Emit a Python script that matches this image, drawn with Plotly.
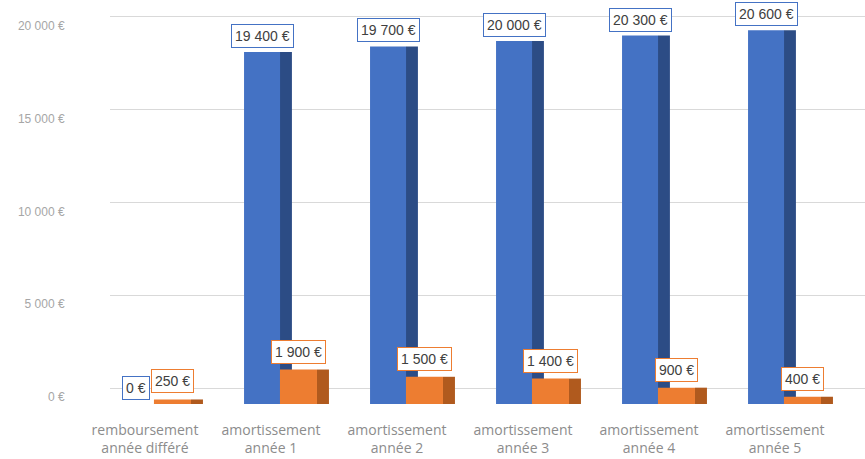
import plotly.graph_objects as go

categories = ["remboursement<br>année différé", "amortissement<br>année 1", "amortissement<br>année 2",
              "amortissement<br>année 3", "amortissement<br>année 4", "amortissement<br>année 5"]
capital = [0, 19400, 19700, 20000, 20300, 20600]
interets = [250, 1900, 1500, 1400, 900, 400]
y_ticks = [0, 5000, 10000, 15000, 20000]

BLUE, BLUE_SIDE = "#4472C4", "#2C4C85"
ORANGE, ORANGE_SIDE = "#ED7D31", "#B05A1E"

W, H = 865, 459


def eur(v):
    return f"{v:,}".replace(",", " ") + " €"


idx = list(range(len(categories)))
fig = go.Figure()

# back-wall gridlines subplot
fig.add_trace(go.Scatter(x=[], y=[], xaxis="x", yaxis="y", showlegend=False, hoverinfo="skip"))
# tick label axis
fig.add_trace(go.Scatter(x=[], y=[], xaxis="x2", yaxis="y3", showlegend=False, hoverinfo="skip"))

common = dict(xaxis="x2", yaxis="y2", showlegend=False)
fig.add_trace(go.Bar(x=idx, y=capital, width=0.095, offset=0.071, marker=dict(color=BLUE_SIDE, line_width=0), **common))
fig.add_trace(go.Bar(x=idx, y=capital, width=0.286, offset=-0.214, marker=dict(color=BLUE, line_width=0), name="Capital", **common))
fig.add_trace(go.Bar(x=idx, y=interets, width=0.294, offset=0.071, marker=dict(color=ORANGE, line_width=0), name="Intérêts", **common))
fig.add_trace(go.Bar(x=idx, y=interets, width=0.095, offset=0.365, marker=dict(color=ORANGE_SIDE, line_width=0), **common))

for i, v in zip(idx, capital):
    fig.add_annotation(x=i - 0.07, y=v, xref="x2", yref="y2", text=eur(v), showarrow=False,
                       yanchor="bottom", xanchor="center", yshift=4,
                       font=dict(family="Liberation Sans", size=14, color="#404040"),
                       bgcolor="white", bordercolor=BLUE, borderwidth=1, borderpad=3)
for i, v in zip(idx, interets):
    fig.add_annotation(x=i + 0.218, y=v, xref="x2", yref="y2", text=eur(v), showarrow=False,
                       yanchor="bottom", xanchor="center", yshift=6,
                       font=dict(family="Liberation Sans", size=14, color="#404040"),
                       bgcolor="white", bordercolor=ORANGE, borderwidth=1, borderpad=3)

fig.update_layout(
    width=W, height=H,
    margin=dict(l=0, r=0, t=0, b=55, pad=0),
    paper_bgcolor="white", plot_bgcolor="rgba(0,0,0,0)",
    barmode="overlay", showlegend=False,
    xaxis=dict(domain=[110 / W, 1], range=[0, 1], showgrid=False, zeroline=False,
               showticklabels=False, showline=False, fixedrange=True),
    yaxis=dict(domain=[0, 1], anchor="x", range=[-860, 20860], tickvals=y_ticks, showgrid=True,
               gridcolor="#D9D9D9", gridwidth=1, zeroline=False, showticklabels=False, showline=False),
    xaxis2=dict(domain=[82 / W, 838 / W], anchor="y2", range=[-0.5, 5.5], tickvals=idx,
                ticktext=categories, showgrid=False, zeroline=False, showline=False,
                ticks="outside", ticklen=13, tickcolor="rgba(0,0,0,0)",
                tickfont=dict(family="Open Sans", size=14, color="#8C8C8C")),
    yaxis2=dict(domain=[0, 1], anchor="x2", range=[0, 22260], showgrid=False, zeroline=False,
                showticklabels=False, showline=False),
    yaxis3=dict(overlaying="y2", anchor="x2", side="left", range=[-377, 21402], tickvals=y_ticks,
                ticktext=[eur(v) for v in y_ticks], showgrid=False, zeroline=False, showline=False,
                ticks="outside", ticklen=14, tickcolor="rgba(0,0,0,0)",
                tickfont=dict(family="Liberation Sans", size=12, color="#A6A6A6")),
)

fig.write_html("out.html", config={"displayModeBar": False},
               post_script="document.body.style.margin='0';")
